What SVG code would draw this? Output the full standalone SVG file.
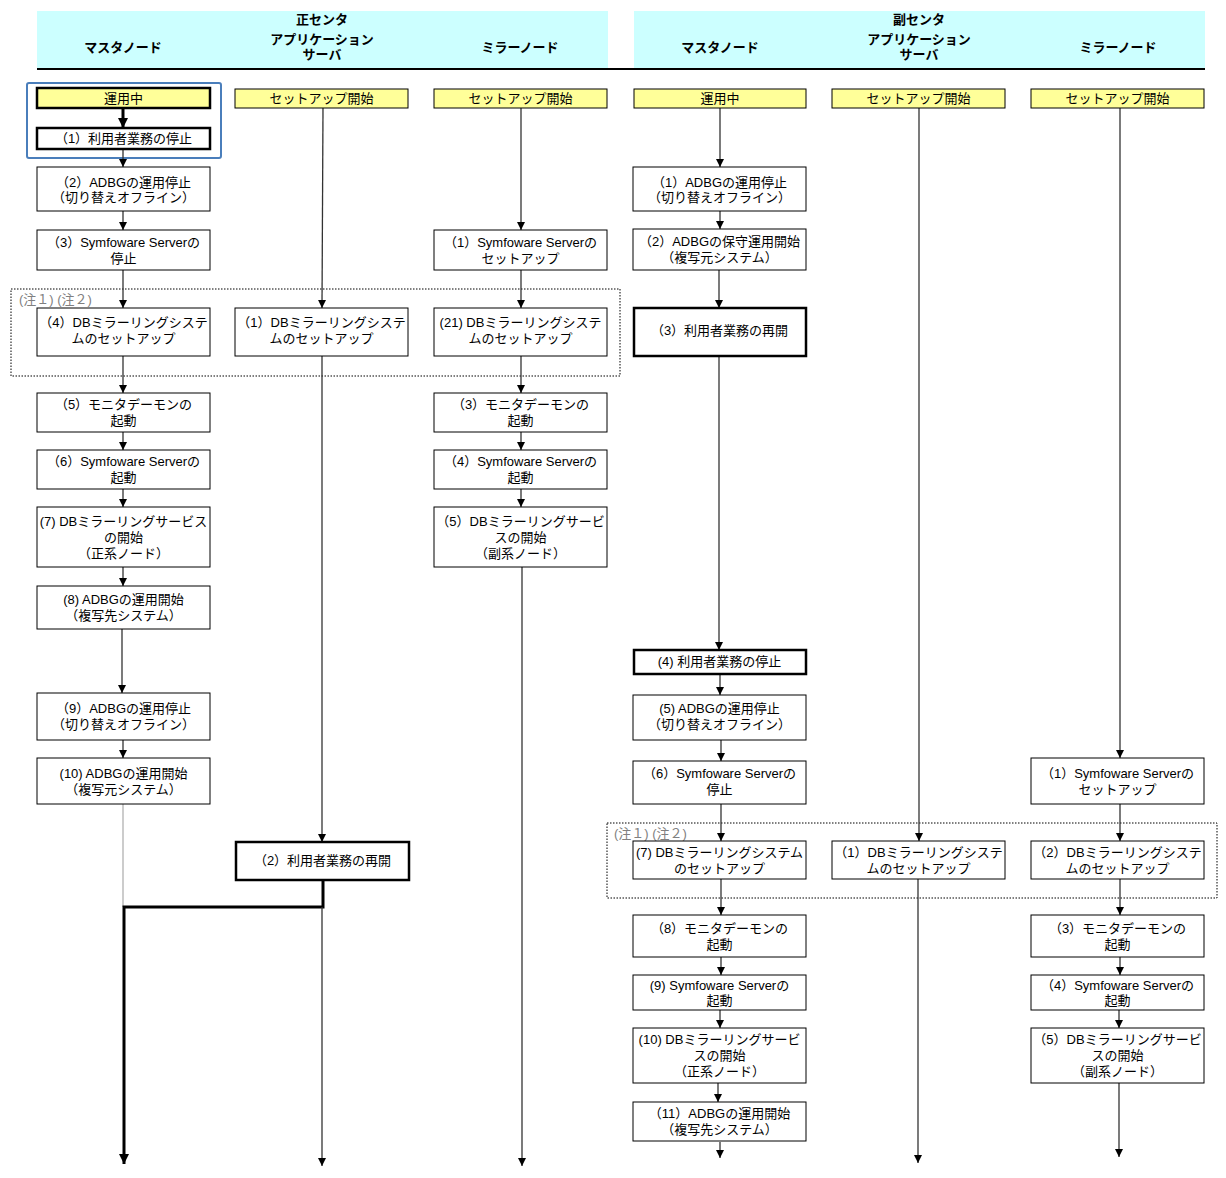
<svg xmlns="http://www.w3.org/2000/svg" width="1226" height="1178" viewBox="0 0 1226 1178">
<defs>
<style>
.box{fill:#ffffff;stroke:#000000;stroke-width:1}
.bold{fill:#ffffff;stroke:#000000;stroke-width:2.5}
.start{fill:#ffff99;stroke:#000000;stroke-width:1}
.start2{fill:#ffff99;stroke:#000000;stroke-width:2.5}
.t{font-family:"Liberation Sans","Noto Sans CJK JP",sans-serif;font-size:13px;text-anchor:middle;fill:#000000}
.h{font-family:"Liberation Sans","Noto Sans CJK JP",sans-serif;font-size:13px;font-weight:bold;text-anchor:middle;fill:#000000}
.note{font-family:"Liberation Sans","Noto Sans CJK JP",sans-serif;font-size:13px;fill:#808080}
.c{stroke:#333333;stroke-width:1.3;fill:none;marker-end:url(#ah)}
.ck{stroke:#000000;stroke-width:3;fill:none;marker-end:url(#ahk)}
.cg{stroke:#999999;stroke-width:1;fill:none}
.dot{fill:none;stroke:#000000;stroke-width:1;stroke-dasharray:1.5 1.5}
</style>
<marker id="ah" markerUnits="userSpaceOnUse" markerWidth="8" markerHeight="8" refX="8" refY="4" orient="auto">
<path d="M0,0 L8,4 L0,8 z" fill="#000000"/>
</marker>
<marker id="ahk" markerUnits="userSpaceOnUse" markerWidth="10" markerHeight="10" refX="10" refY="5" orient="auto">
<path d="M0,0 L10,5 L0,10 z" fill="#000000"/>
</marker>
</defs>
<rect width="1226" height="1178" fill="#ffffff"/>

<g id="header">
<rect x="37" y="11" width="571" height="57" fill="#ccffff"/>
<rect x="634" y="11" width="571" height="57" fill="#ccffff"/>
<line x1="37" y1="69" x2="1205" y2="69" stroke="#000000" stroke-width="2"/>
<text class="h" x="322" y="24">正センタ</text>
<text class="h" x="322" y="44">アプリケーション</text>
<text class="h" x="322" y="59">サーバ</text>
<text class="h" x="123" y="52">マスタノード</text>
<text class="h" x="520" y="52">ミラーノード</text>
<text class="h" x="919" y="24">副センタ</text>
<text class="h" x="919" y="44">アプリケーション</text>
<text class="h" x="919" y="59">サーバ</text>
<text class="h" x="720" y="52">マスタノード</text>
<text class="h" x="1118" y="52">ミラーノード</text>
</g>

<g id="notes">
<rect class="dot" x="11" y="289" width="609" height="87"/>
<text class="note" x="19" y="304">(注１) (注２)</text>
<rect class="dot" x="607" y="823" width="610" height="75"/>
<text class="note" x="614" y="838">(注１) (注２)</text>
<rect x="27" y="83" width="194" height="75" rx="2" fill="none" stroke="#4a7ebb" stroke-width="2"/>
</g>

<g id="connectors">
<line class="ck" x1="123" y1="109" x2="123" y2="128"/>
<line class="c" x1="123" y1="150" x2="123" y2="167"/>
<line class="c" x1="123" y1="211" x2="123" y2="230"/>
<line class="c" x1="123" y1="270" x2="123" y2="308"/>
<line class="c" x1="123" y1="356" x2="123" y2="393"/>
<line class="c" x1="123" y1="432" x2="123" y2="450"/>
<line class="c" x1="123" y1="489" x2="123" y2="507"/>
<line class="c" x1="123" y1="567" x2="123" y2="586"/>
<line class="c" x1="122" y1="629" x2="122" y2="693"/>
<line class="c" x1="123" y1="740" x2="123" y2="758"/>
<line class="cg" x1="123" y1="804" x2="123" y2="907"/>
<path class="ck" d="M323,881 V907 H124 V1164"/>
<line class="c" x1="323" y1="108" x2="322" y2="308"/>
<line class="c" x1="322" y1="356" x2="322" y2="842"/>
<line class="c" x1="322" y1="907" x2="322" y2="1166"/>
<line class="c" x1="521" y1="108" x2="521" y2="230"/>
<line class="c" x1="521" y1="270" x2="521" y2="308"/>
<line class="c" x1="521" y1="356" x2="521" y2="393"/>
<line class="c" x1="521" y1="432" x2="521" y2="450"/>
<line class="c" x1="521" y1="489" x2="521" y2="507"/>
<line class="c" x1="522" y1="567" x2="522" y2="1166"/>
<line class="c" x1="720" y1="108" x2="720" y2="167"/>
<line class="c" x1="720" y1="211" x2="720" y2="229"/>
<line class="c" x1="719" y1="270" x2="719" y2="308"/>
<line class="c" x1="719" y1="357" x2="719" y2="650"/>
<line class="c" x1="720" y1="675" x2="720" y2="695"/>
<line class="c" x1="721" y1="740" x2="721" y2="761"/>
<line class="c" x1="721" y1="804" x2="721" y2="841"/>
<line class="c" x1="721" y1="879" x2="721" y2="915"/>
<line class="c" x1="721" y1="957" x2="721" y2="975"/>
<line class="c" x1="720" y1="1010" x2="720" y2="1028"/>
<line class="c" x1="718" y1="1083" x2="718" y2="1102"/>
<line class="c" x1="720" y1="1142" x2="720" y2="1158"/>
<line class="c" x1="919" y1="108" x2="919" y2="841"/>
<line class="c" x1="918" y1="879" x2="918" y2="1163"/>
<line class="c" x1="1120" y1="108" x2="1120" y2="758"/>
<line class="c" x1="1120" y1="804" x2="1120" y2="841"/>
<line class="c" x1="1120" y1="879" x2="1120" y2="915"/>
<line class="c" x1="1120" y1="957" x2="1120" y2="975"/>
<line class="c" x1="1119" y1="1010" x2="1119" y2="1028"/>
<line class="c" x1="1119" y1="1083" x2="1119" y2="1157"/>
</g>

<g id="m1-start"><rect class="start2" x="37" y="88" width="173" height="20"/><text class="t" x="123.5" y="103">運用中</text></g>
<g id="m1-1"><rect class="bold" x="37" y="128" width="173" height="21"/><text class="t" x="123.5" y="143">（1）利用者業務の停止</text></g>
<g id="m1-2"><rect class="box" x="37" y="167" width="173" height="44"/><text class="t" x="123.5" y="186.5">（2）ADBGの運用停止</text><text class="t" x="123.5" y="201.5">（切り替えオフライン）</text></g>
<g id="m1-3"><rect class="box" x="37" y="230" width="173" height="40"/><text class="t" x="123.5" y="246.5">（3）Symfoware Serverの</text><text class="t" x="123.5" y="262.5">停止</text></g>
<g id="m1-4"><rect class="box" x="37" y="308" width="173" height="48"/><text class="t" x="123.5" y="326.5">（4）DBミラーリングシステ</text><text class="t" x="123.5" y="342.5">ムのセットアップ</text></g>
<g id="m1-5"><rect class="box" x="37" y="393" width="173" height="39"/><text class="t" x="123.5" y="408.5">（5）モニタデーモンの</text><text class="t" x="123.5" y="424.5">起動</text></g>
<g id="m1-6"><rect class="box" x="37" y="450" width="173" height="39"/><text class="t" x="123.5" y="466">（6）Symfoware Serverの</text><text class="t" x="123.5" y="481.5">起動</text></g>
<g id="m1-7"><rect class="box" x="37" y="507" width="173" height="60"/><text class="t" x="123.5" y="525.5">(7) DBミラーリングサービス</text><text class="t" x="123.5" y="541.5">の開始</text><text class="t" x="123.5" y="557.5">（正系ノード）</text></g>
<g id="m1-8"><rect class="box" x="37" y="586" width="173" height="43"/><text class="t" x="123.5" y="603.5">(8) ADBGの運用開始</text><text class="t" x="123.5" y="619.5">（複写先システム）</text></g>
<g id="m1-9"><rect class="box" x="37" y="693" width="173" height="47"/><text class="t" x="123.5" y="712.5">（9）ADBGの運用停止</text><text class="t" x="123.5" y="728.5">（切り替えオフライン）</text></g>
<g id="m1-10"><rect class="box" x="37" y="758" width="173" height="46"/><text class="t" x="123.5" y="777.5">(10) ADBGの運用開始</text><text class="t" x="123.5" y="793.5">（複写元システム）</text></g>

<g id="a1-start"><rect class="start" x="235" y="89" width="173" height="19"/><text class="t" x="321.5" y="103">セットアップ開始</text></g>
<g id="a1-1"><rect class="box" x="235" y="308" width="173" height="48"/><text class="t" x="321.5" y="326.5">（1）DBミラーリングシステ</text><text class="t" x="321.5" y="342.5">ムのセットアップ</text></g>
<g id="a1-2"><rect class="bold" x="236" y="842" width="173" height="38"/><text class="t" x="322.5" y="865">（2）利用者業務の再開</text></g>

<g id="r1-start"><rect class="start" x="434" y="89" width="173" height="19"/><text class="t" x="520.5" y="103">セットアップ開始</text></g>
<g id="r1-1"><rect class="box" x="434" y="230" width="173" height="40"/><text class="t" x="520.5" y="246.5">（1）Symfoware Serverの</text><text class="t" x="520.5" y="262.5">セットアップ</text></g>
<g id="r1-21"><rect class="box" x="434" y="308" width="173" height="48"/><text class="t" x="520.5" y="326.5">(21) DBミラーリングシステ</text><text class="t" x="520.5" y="342.5">ムのセットアップ</text></g>
<g id="r1-3"><rect class="box" x="434" y="393" width="173" height="39"/><text class="t" x="520.5" y="408.5">（3）モニタデーモンの</text><text class="t" x="520.5" y="424.5">起動</text></g>
<g id="r1-4"><rect class="box" x="434" y="450" width="173" height="39"/><text class="t" x="520.5" y="466">（4）Symfoware Serverの</text><text class="t" x="520.5" y="481.5">起動</text></g>
<g id="r1-5"><rect class="box" x="434" y="507" width="173" height="60"/><text class="t" x="520.5" y="525.5">（5）DBミラーリングサービ</text><text class="t" x="520.5" y="541.5">スの開始</text><text class="t" x="520.5" y="557.5">（副系ノード）</text></g>

<g id="m2-start"><rect class="start" x="634" y="89" width="172" height="19"/><text class="t" x="720" y="103">運用中</text></g>
<g id="m2-1"><rect class="box" x="633" y="167" width="173" height="44"/><text class="t" x="719.5" y="186.5">（1）ADBGの運用停止</text><text class="t" x="719.5" y="201.5">（切り替えオフライン）</text></g>
<g id="m2-2"><rect class="box" x="633" y="229" width="173" height="41"/><text class="t" x="719.5" y="245.5">（2）ADBGの保守運用開始</text><text class="t" x="719.5" y="261.5">（複写元システム）</text></g>
<g id="m2-3"><rect class="bold" x="634" y="308" width="172" height="48"/><text class="t" x="719.5" y="334.5">（3）利用者業務の再開</text></g>
<g id="m2-4"><rect class="bold" x="634" y="650" width="172" height="24"/><text class="t" x="719.5" y="665.5">(4) 利用者業務の停止</text></g>
<g id="m2-5"><rect class="box" x="633" y="695" width="173" height="45"/><text class="t" x="719.5" y="712.5">(5) ADBGの運用停止</text><text class="t" x="719.5" y="728.5">（切り替えオフライン）</text></g>
<g id="m2-6"><rect class="box" x="633" y="761" width="173" height="43"/><text class="t" x="719.5" y="778">（6）Symfoware Serverの</text><text class="t" x="719.5" y="794">停止</text></g>
<g id="m2-7"><rect class="box" x="633" y="841" width="173" height="38"/><text class="t" x="719.5" y="856.5">(7) DBミラーリングシステム</text><text class="t" x="719.5" y="872.5">のセットアップ</text></g>
<g id="m2-8"><rect class="box" x="633" y="915" width="173" height="42"/><text class="t" x="719.5" y="932.5">（8）モニタデーモンの</text><text class="t" x="719.5" y="948.5">起動</text></g>
<g id="m2-9"><rect class="box" x="633" y="975" width="173" height="35"/><text class="t" x="719.5" y="989.5">(9) Symfoware Serverの</text><text class="t" x="719.5" y="1004.5">起動</text></g>
<g id="m2-10"><rect class="box" x="633" y="1028" width="173" height="55"/><text class="t" x="719.5" y="1043.5">(10) DBミラーリングサービ</text><text class="t" x="719.5" y="1059.5">スの開始</text><text class="t" x="719.5" y="1075.5">（正系ノード）</text></g>
<g id="m2-11"><rect class="box" x="633" y="1102" width="173" height="39"/><text class="t" x="719.5" y="1117.5">（11）ADBGの運用開始</text><text class="t" x="719.5" y="1133.5">（複写先システム）</text></g>

<g id="a2-start"><rect class="start" x="832" y="89" width="173" height="19"/><text class="t" x="918.5" y="103">セットアップ開始</text></g>
<g id="a2-1"><rect class="box" x="832" y="841" width="173" height="38"/><text class="t" x="918.5" y="856.5">（1）DBミラーリングシステ</text><text class="t" x="918.5" y="872.5">ムのセットアップ</text></g>

<g id="r2-start"><rect class="start" x="1031" y="89" width="173" height="19"/><text class="t" x="1117.5" y="103">セットアップ開始</text></g>
<g id="r2-1"><rect class="box" x="1031" y="758" width="173" height="46"/><text class="t" x="1117.5" y="777.5">（1）Symfoware Serverの</text><text class="t" x="1117.5" y="793.5">セットアップ</text></g>
<g id="r2-2"><rect class="box" x="1031" y="841" width="173" height="38"/><text class="t" x="1117.5" y="856.5">（2）DBミラーリングシステ</text><text class="t" x="1117.5" y="872.5">ムのセットアップ</text></g>
<g id="r2-3"><rect class="box" x="1031" y="915" width="173" height="42"/><text class="t" x="1117.5" y="932.5">（3）モニタデーモンの</text><text class="t" x="1117.5" y="948.5">起動</text></g>
<g id="r2-4"><rect class="box" x="1031" y="975" width="173" height="35"/><text class="t" x="1117.5" y="989.5">（4）Symfoware Serverの</text><text class="t" x="1117.5" y="1004.5">起動</text></g>
<g id="r2-5"><rect class="box" x="1031" y="1028" width="173" height="55"/><text class="t" x="1117.5" y="1043.5">（5）DBミラーリングサービ</text><text class="t" x="1117.5" y="1059.5">スの開始</text><text class="t" x="1117.5" y="1075.5">（副系ノード）</text></g>
</svg>
